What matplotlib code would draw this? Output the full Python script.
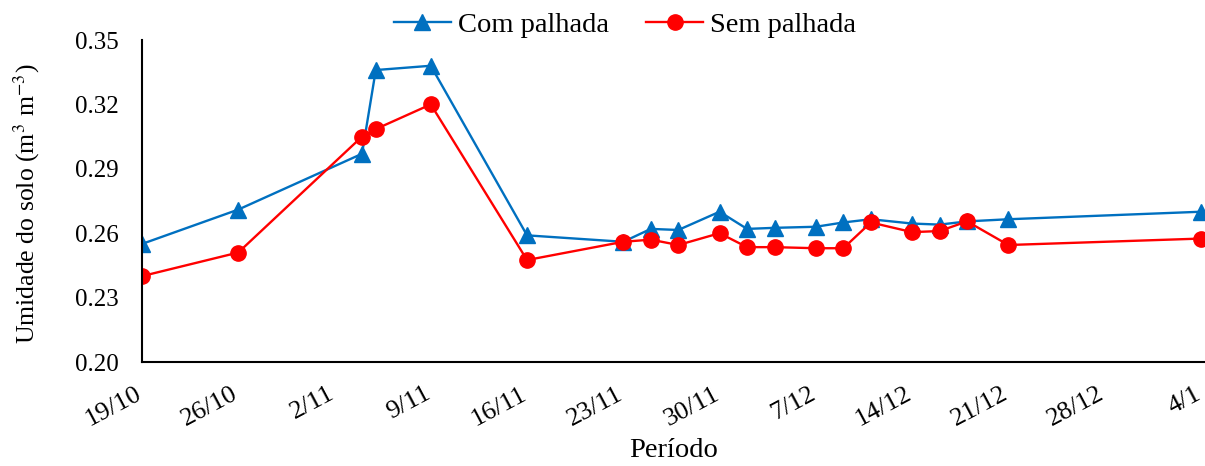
import datetime as dt
import numpy as np
import matplotlib
matplotlib.use("Agg")
import matplotlib.pyplot as plt
import matplotlib.dates as mdates
import matplotlib.transforms as mtransforms

# sampling dates (day/month), season 2019/2020
datas = ["19/10/2019", "26/10/2019", "4/11/2019", "5/11/2019", "9/11/2019",
         "16/11/2019", "23/11/2019", "25/11/2019", "27/11/2019", "30/11/2019",
         "2/12/2019", "4/12/2019", "7/12/2019", "9/12/2019", "11/12/2019",
         "14/12/2019", "16/12/2019", "18/12/2019", "21/12/2019", "4/1/2020"]

com_palhada = [0.255, 0.271, 0.297, 0.336, 0.338,
               0.259, 0.256, 0.262, 0.2615, 0.270,
               0.262, 0.2625, 0.263, 0.265, 0.2665,
               0.2645, 0.264, 0.2655, 0.2665, 0.270]

sem_palhada = [0.240, 0.251, 0.305, 0.3085, 0.320,
               0.2475, 0.256, 0.257, 0.2545, 0.260,
               0.2535, 0.2535, 0.253, 0.253, 0.265,
               0.2605, 0.261, 0.2655, 0.2545, 0.2575]

dias = [dt.datetime.strptime(d, "%d/%m/%Y") for d in datas]

plt.rcParams['font.family'] = ['Liberation Serif', 'DejaVu Serif']
plt.rcParams['mathtext.fontset'] = 'stix'

fig = plt.figure(figsize=(12.05, 4.66), dpi=100)
ax = fig.add_axes([142 / 1205, 1 - 362 / 466, 1 - 142 / 1205, (362 - 40) / 466])

ax.plot(dias, com_palhada, color='#0070C0', lw=1.7, marker='^', markersize=11.5,
        label='Com palhada')
ax.plot(dias, sem_palhada, color='#FF0000', lw=1.7, marker='o', markersize=11,
        label='Sem palhada')

# axis limits and ticks
inicio = dias[0]
ticks = [inicio + dt.timedelta(days=7 * k) for k in range(12)]
ax.set_xlim(inicio, ticks[-1] + dt.timedelta(days=0.3))
ax.set_xticks(ticks)
ax.xaxis.set_major_formatter(mdates.DateFormatter('%-d/%-m'))
ax.set_ylim(0.20, 0.35)
ax.set_yticks(np.arange(0.20, 0.351, 0.03))
ax.yaxis.set_major_formatter(plt.FormatStrFormatter('%.2f'))

ax.tick_params(axis='both', length=0)
ax.tick_params(axis='y', pad=17, labelsize=18)
ax.tick_params(axis='x', pad=15, labelsize=19)
desloc = mtransforms.ScaledTranslation(-7 / 100, 0, fig.dpi_scale_trans)
for lab in ax.get_xticklabels():
    lab.set_rotation(28)
    lab.set_ha('right')
    lab.set_va('top')
    lab.set_rotation_mode('anchor')
    lab.set_transform(lab.get_transform() + desloc)

for s in ['top', 'right']:
    ax.spines[s].set_visible(False)
for s in ['left', 'bottom']:
    ax.spines[s].set_linewidth(1.5)
    ax.spines[s].set_color('black')

ax.set_xlabel('Período', fontsize=20.5)
ax.set_ylabel('Umidade do solo (m$^{3}$ m$^{-3}$)', fontsize=18.5)
ax.xaxis.set_label_coords(0.5, -0.235)
ax.yaxis.set_label_coords(-0.094, 0.49)

fig.legend(loc='center', bbox_to_anchor=(0.5187, 1 - 25 / 466), ncol=2,
           frameon=False, fontsize=20.5, handlelength=2.0, handletextpad=0.25,
           columnspacing=1.3)

plt.savefig("out.png", dpi=100)
plt.close()
